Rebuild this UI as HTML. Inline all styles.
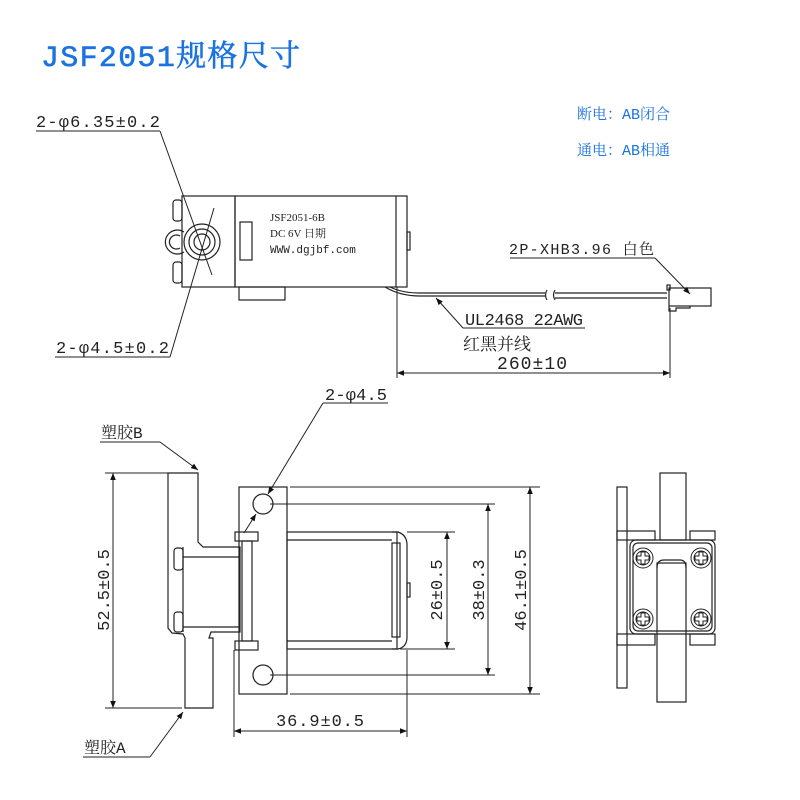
<!DOCTYPE html>
<html><head><meta charset="utf-8"><style>
html,body{margin:0;padding:0;background:#fff;}
svg{display:block}
text{font-family:"Liberation Mono","Noto Serif CJK SC","Noto Sans CJK SC",monospace;fill:#222}
</style></head><body>
<svg width="800" height="800" viewBox="0 0 800 800" xmlns="http://www.w3.org/2000/svg">
<defs>
<marker id="a" viewBox="0 0 10 10" refX="10" refY="5" markerWidth="9" markerHeight="7" orient="auto-start-reverse" markerUnits="userSpaceOnUse"><path d="M0,1 L10,5 L0,9 z" fill="#111"/></marker>
</defs>
<rect width="800" height="800" fill="#fff"/>
<text x="41" y="66" font-size="30" style="fill:#1a73e0;font-family:'Liberation Mono','Noto Serif CJK SC',monospace" stroke="#1a73e0" stroke-width="0.6" textLength="259">JSF2051规格尺寸</text>
<text x="577" y="119" font-size="15" style="fill:#1a73e0;font-family:'Liberation Mono','Noto Serif CJK SC',monospace">断电：AB闭合</text>
<text x="577" y="155" font-size="15" style="fill:#1a73e0;font-family:'Liberation Mono','Noto Serif CJK SC',monospace">通电：AB相通</text>

<g fill="none" stroke="#222" stroke-width="1.2">
<rect x="235" y="196" width="172" height="91"/>
<line x1="396" y1="196" x2="396" y2="287"/>
<rect x="407" y="232" width="3" height="18"/>
<rect x="182" y="196" width="53" height="91"/>
<rect x="240" y="222" width="12" height="38"/>
<rect x="173" y="200" width="9" height="21" rx="3"/>
<rect x="173" y="262" width="9" height="21" rx="3"/>
<circle cx="202" cy="242" r="18"/>
<circle cx="202" cy="242" r="13"/>
<circle cx="202" cy="242" r="8"/>
<path d="M184,232 A12,12 0 1,0 184,252"/>
<path d="M180,236 A7,7 0 1,0 180,248"/>
<rect x="239" y="287" width="46" height="13"/>
<path d="M385,287 Q400,296 420,296 L545,296 M390,287 Q402,293 420,293 L545,293"/>
<path d="M547,290 Q544,295 547,300 M555,290 Q552,295 555,300"/>
<path d="M555,293 L667,293 M555,298 L667,298"/>
<rect x="669" y="288" width="42" height="18"/>
<path d="M669,306 L669,311 L676,311 L676,308 L690,308 L690,306"/>
<rect x="667" y="285" width="3" height="5"/>
<line x1="397" y1="287" x2="397" y2="378" stroke-width="1"/>
<line x1="670" y1="308" x2="670" y2="378" stroke-width="1"/>
<line x1="397" y1="373" x2="670" y2="373" marker-start="url(#a)" marker-end="url(#a)" stroke-width="1"/>
<line x1="36" y1="131" x2="160" y2="131" stroke-width="1"/>
<line x1="160" y1="131" x2="212" y2="275" stroke-width="1"/>
<line x1="55" y1="357" x2="170" y2="357" stroke-width="1"/>
<line x1="170" y1="357" x2="214" y2="208" stroke-width="1"/>
<line x1="510" y1="258" x2="655" y2="258" stroke-width="1"/>
<line x1="655" y1="258" x2="690" y2="294" stroke-width="1" marker-end="url(#a)"/>
<line x1="463" y1="328" x2="585" y2="328" stroke-width="1"/>
<line x1="463" y1="328" x2="436" y2="298" stroke-width="1" marker-end="url(#a)"/>

<rect x="239" y="487" width="48" height="207"/>
<circle cx="263" cy="504" r="10"/>
<circle cx="263" cy="675" r="10"/>
<rect x="287" y="532" width="110" height="117"/>
<line x1="287" y1="540" x2="392" y2="540"/>
<line x1="287" y1="641" x2="392" y2="641"/>
<path d="M392,532 L398,532 Q407,535 407,545 L407,637 Q407,647 398,649 L392,649"/>
<rect x="392" y="543" width="8" height="94"/>
<rect x="407" y="583" width="3" height="14"/>
<rect x="235" y="532" width="23" height="9"/>
<rect x="235" y="641" width="23" height="9"/>
<rect x="242" y="541" width="10" height="100"/>
<path d="M168,473 L198,473 L198,542 L203,547 L240,547 L240,632 L211,632 L209,638 L213,638 L213,708 L185,708 L185,638 L183,634 L172,633 L168,628 Z"/>
<line x1="183" y1="547" x2="183" y2="632"/>
<line x1="183" y1="557" x2="240" y2="557"/>
<line x1="183" y1="627" x2="240" y2="627"/>
<rect x="174" y="548" width="9" height="22" rx="3"/>
<rect x="174" y="612" width="9" height="20" rx="3"/>
<g stroke-width="1">
<line x1="105" y1="473" x2="198" y2="473"/>
<line x1="105" y1="708" x2="182" y2="708"/>
<line x1="113" y1="473" x2="113" y2="708" marker-start="url(#a)" marker-end="url(#a)"/>
<line x1="290" y1="487" x2="540" y2="487"/>
<line x1="270" y1="504" x2="495" y2="504"/>
<line x1="407" y1="532" x2="455" y2="532"/>
<line x1="400" y1="649" x2="455" y2="649"/>
<line x1="270" y1="675" x2="495" y2="675"/>
<line x1="290" y1="694" x2="540" y2="694"/>
<line x1="447" y1="532" x2="447" y2="649" marker-start="url(#a)" marker-end="url(#a)"/>
<line x1="488" y1="504" x2="488" y2="675" marker-start="url(#a)" marker-end="url(#a)"/>
<line x1="530" y1="487" x2="530" y2="694" marker-start="url(#a)" marker-end="url(#a)"/>
<line x1="234" y1="650" x2="234" y2="737"/>
<line x1="407" y1="650" x2="407" y2="737"/>
<line x1="234" y1="731" x2="407" y2="731" marker-start="url(#a)" marker-end="url(#a)"/>
<line x1="100" y1="442" x2="160" y2="442"/>
<line x1="160" y1="442" x2="198" y2="470" marker-end="url(#a)"/>
<line x1="83" y1="757" x2="150" y2="757"/>
<line x1="150" y1="757" x2="183" y2="712" marker-end="url(#a)"/>
<line x1="323" y1="403" x2="388" y2="403"/>
<line x1="323" y1="403" x2="268" y2="494" marker-end="url(#a)"/>
<line x1="244" y1="533" x2="256" y2="514" marker-end="url(#a)"/>
</g>

<rect x="617" y="487" width="10" height="201"/>
<rect x="660" y="473" width="26" height="67"/>
<rect x="657" y="563" width="29" height="139"/>
<path d="M657,568 Q657,560 664,560 L680,560 Q686,560 686,568"/>
<rect x="630" y="540" width="85" height="94" rx="6"/>
<rect x="633" y="543" width="79" height="88" rx="5"/>
<rect x="617" y="531" width="38" height="9"/>
<rect x="690" y="531" width="25" height="9"/>
<rect x="617" y="634" width="38" height="11"/>
<rect x="690" y="634" width="25" height="11"/>
<g stroke-width="1">
<circle cx="643" cy="558" r="10"/><circle cx="643" cy="558" r="7"/>
<circle cx="701" cy="558" r="10"/><circle cx="701" cy="558" r="7"/>
<circle cx="643" cy="619" r="10"/><circle cx="643" cy="619" r="7"/>
<circle cx="701" cy="619" r="10"/><circle cx="701" cy="619" r="7"/>
<path d="M641,552 h4 v4 h4 v4 h-4 v4 h-4 v-4 h-4 v-4 h4 z"/>
<path d="M699,552 h4 v4 h4 v4 h-4 v4 h-4 v-4 h-4 v-4 h4 z"/>
<path d="M641,613 h4 v4 h4 v4 h-4 v4 h-4 v-4 h-4 v-4 h4 z"/>
<path d="M699,613 h4 v4 h4 v4 h-4 v4 h-4 v-4 h-4 v-4 h4 z"/>
</g>
</g>

<text x="270" y="221" font-size="11" style="font-family:'Liberation Serif',serif">JSF2051-6B</text>
<text x="270" y="237" font-size="11" style="font-family:'Liberation Serif','Noto Serif CJK SC',serif">DC 6V 日期</text>
<text x="270" y="253" font-size="11">WWW.dgjbf.com</text>
<text x="36" y="127" font-size="17" textLength="124">2-φ6.35±0.2</text>
<text x="56" y="353" font-size="17" textLength="113">2-φ4.5±0.2</text>
<text x="509" y="254" font-size="15" textLength="145">2P-XHB3.96 白色</text>
<text x="465" y="325" font-size="17" textLength="118">UL2468 22AWG</text>
<text x="463" y="350" font-size="17">红黑并线</text>
<text x="497" y="369" font-size="18" textLength="70">260±10</text>
<text x="325" y="400" font-size="17" textLength="62">2-φ4.5</text>
<text x="101" y="438" font-size="16">塑胶B</text>
<text x="84" y="753" font-size="16">塑胶A</text>
<text x="276" y="726" font-size="17" textLength="88">36.9±0.5</text>
<text transform="translate(109,590) rotate(-90)" font-size="17" text-anchor="middle">52.5±0.5</text>
<text transform="translate(442,590) rotate(-90)" font-size="17" text-anchor="middle">26±0.5</text>
<text transform="translate(484,590) rotate(-90)" font-size="17" text-anchor="middle">38±0.3</text>
<text transform="translate(526,590) rotate(-90)" font-size="17" text-anchor="middle">46.1±0.5</text>
</svg>
</body></html>
